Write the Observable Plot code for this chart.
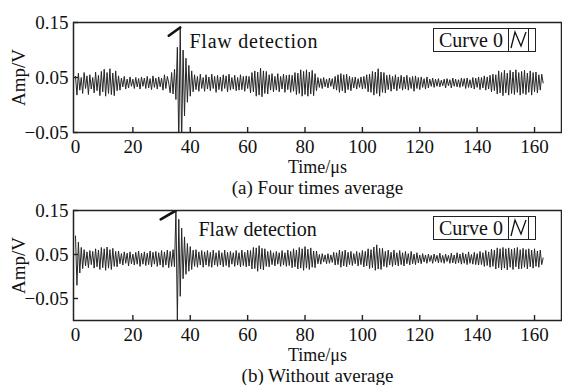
<!DOCTYPE html>
<html><head><meta charset="utf-8">
<script src="https://cdn.jsdelivr.net/npm/d3@7"></script>
<script src="https://cdn.jsdelivr.net/npm/@observablehq/plot@0.6"></script>
<style>
body{margin:0;background:#fff;font-family:"Liberation Serif",serif;color:#111;}
.panel{position:relative;width:562px;}
.panel svg{display:block;}
.legend{position:absolute;left:433px;width:103px;height:24px;border:1.3px solid #222;box-sizing:border-box;display:flex;align-items:stretch;font-size:20px;background:#fff;}
.legend .lab{width:75px;padding-left:5px;line-height:22px;box-sizing:border-box;border-right:1.3px solid #222;white-space:nowrap;}
.legend .ico{width:19px;border-right:1.3px solid #222;}
</style>
</head><body>
<div id="chart"></div>
<script>
// sampling interval (µs)
const dt = 0.5;
// x ticks / y ticks
const xTicks = [0, 20, 40, 60, 80, 100, 120, 140, 160];
const yTicksA = [-0.05, 0.05, 0.15];
const yTicksB = [-0.05, 0.05, 0.15];
const captions = ["(a) Four times average", "(b) Without average"];
const xLabel = "Time/μs";
const yLabel = "Amp/V";
const noteText = "Flaw detection";
const legendText = "Curve 0";

// (a) Four times average, amplitude (V) every dt
const sigA = [
0.052,0.018,0.058,0.027,0.050,0.021,0.059,0.030,0.053,0.019,
0.055,0.029,0.050,0.022,0.060,0.026,0.054,0.017,0.061,0.024,
0.065,0.016,0.059,0.021,0.066,0.019,0.058,0.017,0.062,0.026,
0.053,0.027,0.049,0.033,0.052,0.029,0.047,0.031,0.051,0.034,
0.047,0.030,0.050,0.033,0.048,0.029,0.051,0.034,0.049,0.030,
0.052,0.031,0.048,0.028,0.053,0.032,0.049,0.029,0.051,0.033,
0.049,0.027,0.055,0.030,0.052,0.040,0.022,0.059,0.020,0.065,
0.010,0.105,-0.070,0.141,-0.070,0.100,-0.020,0.085,0.005,0.072,
0.016,0.062,0.024,0.055,0.028,0.052,0.025,0.056,0.030,0.050,
0.025,0.055,0.029,0.051,0.026,0.056,0.030,0.052,0.023,0.054,
0.028,0.051,0.025,0.055,0.030,0.053,0.024,0.056,0.027,0.050,
0.029,0.054,0.026,0.050,0.027,0.055,0.028,0.052,0.025,0.053,
0.030,0.052,0.022,0.059,0.024,0.062,0.016,0.060,0.018,0.067,
0.015,0.062,0.021,0.061,0.020,0.055,0.027,0.057,0.024,0.052,
0.027,0.057,0.024,0.052,0.029,0.056,0.023,0.054,0.028,0.055,
0.023,0.054,0.025,0.059,0.019,0.058,0.021,0.064,0.016,0.061,
0.019,0.064,0.016,0.060,0.020,0.063,0.017,0.057,0.026,0.050,
0.032,0.048,0.030,0.050,0.033,0.047,0.031,0.049,0.034,0.048,
0.029,0.052,0.027,0.055,0.023,0.057,0.026,0.055,0.022,0.056,
0.028,0.052,0.026,0.050,0.031,0.051,0.029,0.048,0.032,0.051,
0.029,0.052,0.030,0.055,0.024,0.056,0.023,0.061,0.018,0.060,
0.021,0.066,0.016,0.060,0.023,0.059,0.022,0.054,0.028,0.055,
0.025,0.052,0.029,0.055,0.026,0.051,0.030,0.054,0.027,0.051,
0.029,0.054,0.027,0.050,0.030,0.052,0.025,0.053,0.030,0.050,
0.028,0.051,0.032,0.048,0.029,0.051,0.031,0.047,0.034,0.049,
0.032,0.047,0.034,0.048,0.033,0.045,0.035,0.047,0.031,0.048,
0.035,0.046,0.031,0.049,0.034,0.047,0.033,0.046,0.032,0.049,
0.034,0.048,0.030,0.049,0.032,0.046,0.031,0.050,0.029,0.049,
0.032,0.051,0.028,0.050,0.031,0.053,0.027,0.051,0.029,0.054,
0.024,0.056,0.026,0.055,0.020,0.062,0.022,0.059,0.017,0.063,
0.022,0.058,0.018,0.063,0.021,0.060,0.019,0.064,0.023,0.059,
0.018,0.061,0.021,0.063,0.019,0.058,0.023,0.062,0.018,0.059,
0.024,0.060,0.022,0.055,0.027,0.056,0.040
];
// (b) Without average
const sigB = [
0.092,-0.020,0.078,0.008,0.066,0.018,0.061,0.024,0.056,0.020,
0.059,0.027,0.057,0.019,0.063,0.022,0.060,0.016,0.066,0.020,
0.063,0.014,0.067,0.019,0.061,0.016,0.064,0.023,0.057,0.022,
0.058,0.029,0.052,0.026,0.056,0.030,0.053,0.024,0.056,0.029,
0.051,0.026,0.055,0.028,0.058,0.023,0.053,0.028,0.056,0.025,
0.053,0.027,0.058,0.022,0.055,0.028,0.057,0.023,0.054,0.026,
0.059,0.021,0.056,0.026,0.060,0.020,0.057,0.023,0.061,0.022,
0.150,-0.100,0.130,-0.045,0.110,-0.005,0.090,0.005,0.075,0.012,
0.068,0.016,0.060,0.023,0.061,0.021,0.056,0.026,0.059,0.021,
0.056,0.026,0.059,0.023,0.055,0.021,0.060,0.026,0.054,0.023,
0.059,0.026,0.054,0.022,0.060,0.025,0.055,0.021,0.057,0.028,
0.054,0.023,0.059,0.026,0.054,0.022,0.060,0.025,0.055,0.022,
0.060,0.024,0.059,0.017,0.066,0.018,0.065,0.012,0.070,0.017,
0.064,0.015,0.063,0.023,0.057,0.022,0.059,0.027,0.054,0.024,
0.057,0.028,0.054,0.023,0.059,0.026,0.054,0.023,0.060,0.025,
0.057,0.020,0.063,0.022,0.060,0.017,0.066,0.019,0.063,0.014,
0.068,0.019,0.062,0.016,0.065,0.021,0.058,0.020,0.058,0.029,
0.050,0.028,0.052,0.033,0.049,0.029,0.052,0.030,0.049,0.032,
0.055,0.026,0.054,0.027,0.060,0.021,0.057,0.024,0.060,0.022,
0.055,0.027,0.057,0.025,0.052,0.029,0.057,0.024,0.054,0.027,
0.059,0.022,0.057,0.024,0.063,0.018,0.061,0.020,0.067,0.014,
0.072,0.017,0.064,0.016,0.064,0.023,0.057,0.021,0.060,0.026,
0.055,0.023,0.060,0.026,0.054,0.024,0.059,0.027,0.054,0.024,
0.057,0.029,0.052,0.026,0.057,0.029,0.051,0.027,0.054,0.031,
0.049,0.029,0.052,0.033,0.049,0.030,0.051,0.034,0.048,0.030,
0.051,0.034,0.048,0.031,0.053,0.032,0.048,0.030,0.051,0.034,
0.048,0.030,0.053,0.031,0.049,0.029,0.054,0.031,0.051,0.028,
0.054,0.030,0.051,0.027,0.056,0.030,0.050,0.028,0.055,0.027,
0.052,0.026,0.057,0.027,0.054,0.023,0.059,0.025,0.056,0.021,
0.062,0.023,0.060,0.017,0.065,0.020,0.063,0.015,0.066,0.019,
0.063,0.015,0.065,0.021,0.062,0.016,0.064,0.022,0.066,0.017,
0.061,0.018,0.064,0.021,0.061,0.017,0.063,0.022,0.060,0.019,
0.063,0.023,0.058,0.021,0.060,0.027,0.042
];
// bold pointer strokes at the flaw echo
const flawTA = [32.5, 36.5], flawVA = [0.126, 0.141];
const flawTB = [29.7, 35.0], flawVB = [0.130, 0.150];

const toRows = (arr) => arr.map((v, i) => ({t: i * dt, v}));
const pairRows = (ts, vs) => ts.map((t, i) => ({t, v: vs[i]}));

const W = 562, ML = 73, MR = 1, PH = 110, TL = 5, MB = 65;
const PW = W - ML - MR;

function panel(sig, flawT, flawV, yDomain, yTicks, mt, noteDx, caption) {
  return Plot.plot({
    width: W, height: mt + PH + MB,
    marginTop: mt, marginBottom: MB, marginLeft: ML, marginRight: MR,
    x: {domain: [-0.7, 169.4]},
    y: {domain: yDomain},
    style: {fontFamily: "'Liberation Serif', serif", fontSize: "19px", color: "#111", background: "transparent", overflow: "visible"},
    marks: [
      Plot.line(toRows(sig), {x: "t", y: "v", stroke: "#262626", strokeWidth: 1, clip: true}),
      Plot.line(pairRows(flawT, flawV), {x: "t", y: "v", stroke: "#111", strokeWidth: 2.6, clip: true}),
      Plot.ruleX(xTicks.filter(d => d > 0), {x: d => d, insetTop: PH - TL, stroke: "#222", strokeWidth: 1.4}),
      Plot.ruleY(yTicks, {y: d => d, insetRight: PW - TL, stroke: "#222", strokeWidth: 1.4}),
      Plot.axisX({ticks: xTicks, tickSize: 0, tickPadding: 6.5, label: null, tickFormat: d => String(d), fontSize: 19}),
      Plot.axisY({ticks: yTicks, tickSize: 0, tickPadding: 5, label: null, tickFormat: d3.format(".2f"), fontSize: 19}),
      Plot.text([xLabel], {text: d => d, frameAnchor: "bottom", dy: 40.5, lineAnchor: "bottom", fontSize: 18}),
      Plot.text([caption], {text: d => d, frameAnchor: "bottom", dy: 61.5, lineAnchor: "bottom", fontSize: 19}),
      Plot.text([yLabel], {text: d => d, frameAnchor: "left", rotate: -90, dx: -55, textAnchor: "middle", lineAnchor: "middle", fontSize: 19}),
      Plot.text([noteText], {text: d => d, frameAnchor: "top-left", dx: noteDx, dy: 11, textAnchor: "start", lineAnchor: "top", fontSize: 20}),
      Plot.frame({stroke: "#222", strokeWidth: 1.5})
    ]
  });
}

function legend(top) {
  const d = document.createElement("div");
  d.className = "legend";
  d.style.top = top + "px";
  d.innerHTML = `<div class="lab">${legendText}</div><div class="ico"><svg width="18" height="22"><polyline points="2,19 6,3 12,17 17,3" fill="none" stroke="#111" stroke-width="1.3"/></svg></div><div></div>`;
  return d;
}

const root = document.getElementById("chart");
const specs = [
  {sig: sigA, ft: flawTA, fv: flawVA, dom: [-0.05, 0.15], ticks: yTicksA, mt: 22, dx: 116, ls: "0.75px"},
  {sig: sigB, ft: flawTB, fv: flawVB, dom: [-0.1, 0.15], ticks: yTicksB, mt: 13, dx: 125, ls: "0px"}
];
specs.forEach((s, k) => {
  const p = document.createElement("div");
  p.className = "panel";
  const svg = panel(s.sig, s.ft, s.fv, s.dom, s.ticks, s.mt, s.dx, captions[k]);
  svg.querySelectorAll("text").forEach(t => { if (t.textContent === noteText) t.style.letterSpacing = s.ls; });
  p.appendChild(svg);
  p.appendChild(legend(s.mt + 6));
  root.appendChild(p);
});
</script>
</body></html>
